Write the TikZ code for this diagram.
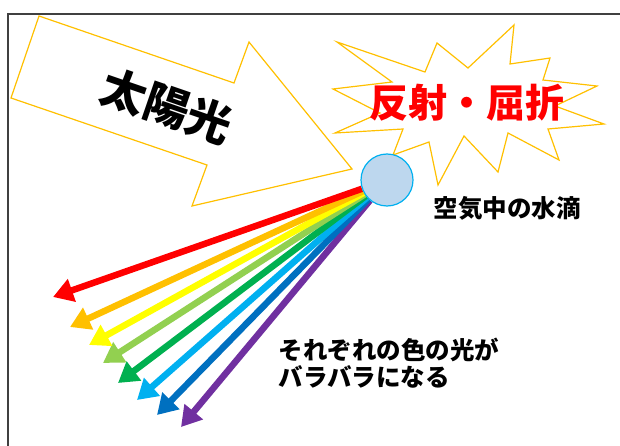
\documentclass[tikz,border=0pt]{standalone}
\usepackage{fontspec}
\newfontfamily\jpfont{Noto Sans CJK JP}
\usetikzlibrary{arrows.meta, backgrounds}

\definecolor{sunline}{HTML}{FFC000}
\definecolor{dropfill}{HTML}{BDD7EE}
\definecolor{dropline}{HTML}{00B0F0}
\definecolor{rayred}{HTML}{FF0000}
\definecolor{rayorange}{HTML}{FFC000}
\definecolor{rayyellow}{HTML}{FFFF00}
\definecolor{raylime}{HTML}{92D050}
\definecolor{raygreen}{HTML}{00B050}
\definecolor{raycyan}{HTML}{00B0F0}
\definecolor{rayblue}{HTML}{0070C0}
\definecolor{raypurple}{HTML}{7030A0}

\begin{document}
\begin{tikzpicture}[x=1pt, y=-1pt,
    outline/.style={draw=sunline, line width=1.2pt, fill=white, line join=miter},
    ray/.style={line width=6.5pt, -{Triangle[length=20pt, width=23pt]}},
    drop/.style={circle, draw=dropline, fill=dropfill, line width=1.2pt,
                 minimum size=52pt, inner sep=0pt}]
    % --- Canvas and frame ---
    \useasboundingbox (0,0) rectangle (620,446);
    \draw[black!75, line width=2pt] (8,446) -- (8,14) -- (620,14);

    % --- Sunlight arrow ---
    \draw[outline] (39,16) -- (234,83) -- (249,42) -- (352,169)
        -- (192,206) -- (207,165) -- (11,98) -- cycle;
    \node[rotate=-19, font=\jpfont\bfseries\fontsize{45}{45}\selectfont] (sun)
        at (167,106) {太陽光};

    % --- Burst around the label ---
    \draw[outline] (337,42) -- (425,72) -- (437,43) -- (468,68) -- (514,25)
        -- (510,64) -- (550,58) -- (543,80) -- (597,86) -- (555,106)
        -- (604,124) -- (548,129) -- (559,160) -- (508,133) -- (498,172)
        -- (464,136) -- (438,185) -- (429,142) -- (393,155) -- (403,129)
        -- (335,133) -- (380,113) -- (333,89) -- (392,82) -- cycle;
    \node[text=rayred, font=\jpfont\bfseries\fontsize{39}{39}\selectfont] (burst)
        at (467,103) {反射・屈折};

    % --- Water drop ---
    \node[drop] (drop) at (387,180) {};
    \node[font=\jpfont\bfseries\fontsize{24.5}{24.5}\selectfont] (droplabel)
        at (507,208) {空気中の水滴};

    % --- Rays, one per colour ---
    \begin{scope}[on background layer]
        \foreach \col/\tx/\ty [count=\i] in {raypurple/181/427, rayblue/157/415,
            raycyan/137/400, raygreen/118/383, raylime/103/363,
            rayyellow/89/345, rayorange/70/327, rayred/53/297} {
            \coordinate (tip\i) at (\tx,\ty);
            \draw[ray, \col] (drop) -- (tip\i);
        }
    \end{scope}

    % --- Note ---
    \node[anchor=west, align=left,
          font=\jpfont\bfseries\fontsize{24.5}{27}\selectfont] (splitlabel)
        at (275,363) {それぞれの色の光が\\バラバラになる};
\end{tikzpicture}
\end{document}
